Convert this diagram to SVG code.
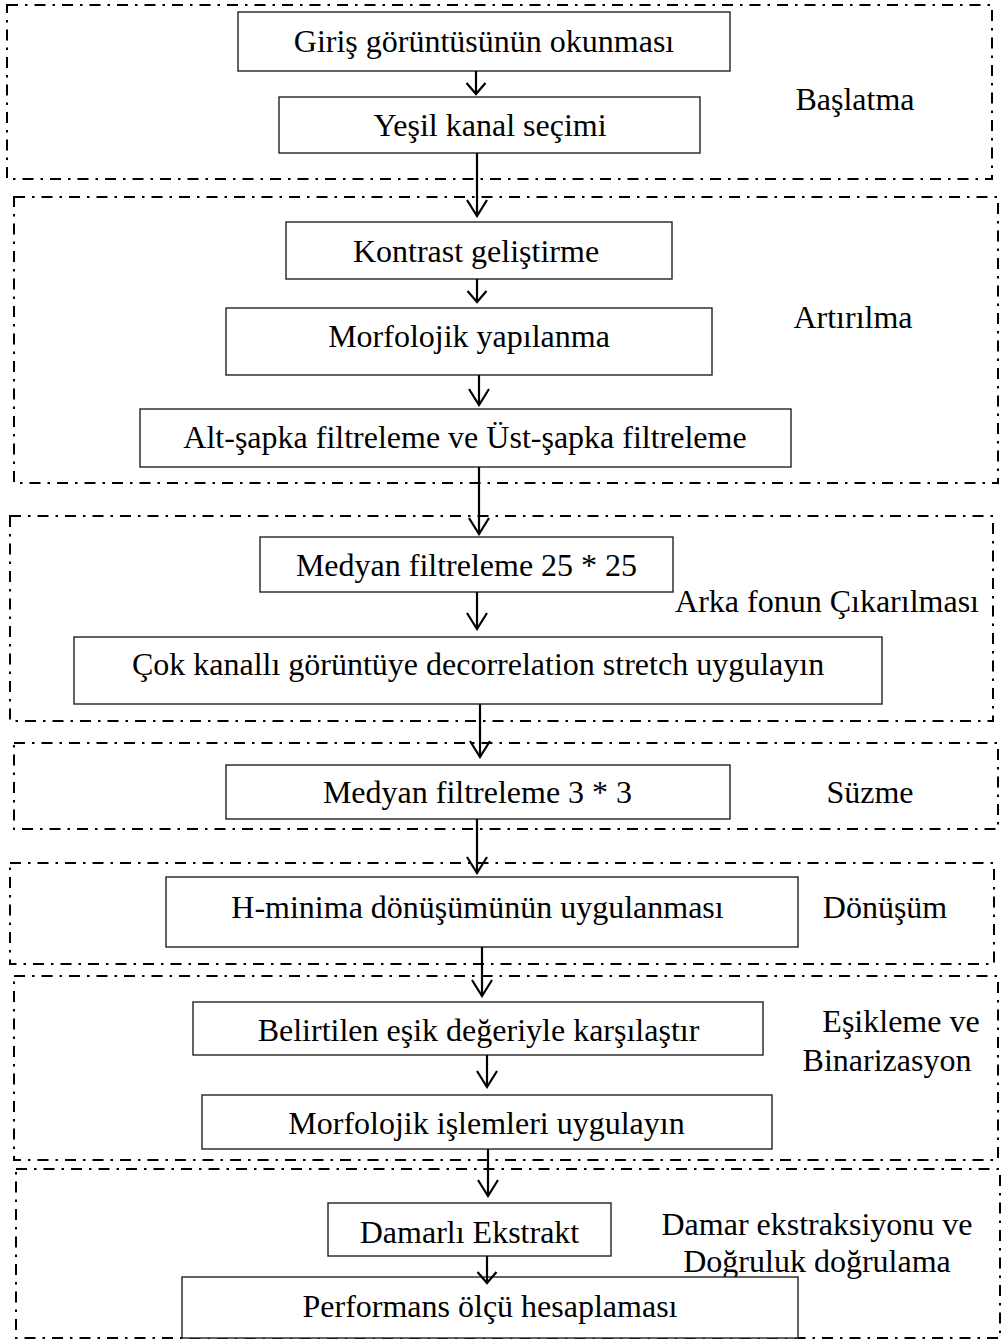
<svg xmlns="http://www.w3.org/2000/svg" width="1002" height="1340" viewBox="0 0 1002 1340">
<defs>
<style>
.grp{fill:none;stroke:#000;stroke-width:2;stroke-dasharray:11 7 2.5 7}
.box{fill:#fff;stroke:#222;stroke-width:1.4}
.t{font-family:"Liberation Serif","Times New Roman",serif;font-size:32px;fill:#000;text-anchor:middle}
.c{fill:none;stroke:#000;stroke-width:2.2}
</style>
<marker id="ah" viewBox="-2 -12 20 24" markerWidth="20" markerHeight="24" refX="16" refY="0" orient="auto" markerUnits="userSpaceOnUse">
<path d="M0,-10 L16,0 L0,10" fill="none" stroke="#000" stroke-width="2.2"/>
</marker>
<marker id="ahs" viewBox="-2 -12 16 24" markerWidth="16" markerHeight="24" refX="11" refY="0" orient="auto" markerUnits="userSpaceOnUse">
<path d="M0,-9.5 L11,0 L0,9.5" fill="none" stroke="#000" stroke-width="2.2"/>
</marker>
</defs>
<rect width="1002" height="1340" fill="#fff"/>

<g id="group-baslatma">
<rect class="grp" x="7" y="5" width="985" height="174"/>
<text class="t" x="855" y="110">Başlatma</text>
</g>
<g id="group-artirilma">
<rect class="grp" x="14" y="197" width="984" height="286"/>
<text class="t" x="853" y="328">Artırılma</text>
</g>
<g id="group-arkafon">
<rect class="grp" x="10" y="516" width="983" height="205"/>
<text class="t" x="827" y="612">Arka fonun Çıkarılması</text>
</g>
<g id="group-suzme">
<rect class="grp" x="14" y="743" width="984" height="86"/>
<text class="t" x="870" y="803">Süzme</text>
</g>
<g id="group-donusum">
<rect class="grp" x="10" y="863" width="984" height="101"/>
<text class="t" x="885" y="918">Dönüşüm</text>
</g>
<g id="group-esikleme">
<rect class="grp" x="14" y="976" width="984" height="184"/>
<text class="t" x="901" y="1032">Eşikleme ve</text>
<text class="t" x="887" y="1071">Binarizasyon</text>
</g>
<g id="group-damar">
<rect class="grp" x="16" y="1169" width="984" height="169"/>
<text class="t" x="817" y="1235">Damar ekstraksiyonu ve</text>
<text class="t" x="817" y="1272">Doğruluk doğrulama</text>
</g>

<g id="n1"><rect class="box" x="238" y="12" width="492" height="59"/><text class="t" x="484" y="52">Giriş görüntüsünün okunması</text></g>
<g id="n2"><rect class="box" x="279" y="97" width="421" height="56"/><text class="t" x="490" y="136">Yeşil kanal seçimi</text></g>
<g id="n3"><rect class="box" x="286" y="222" width="386" height="57"/><text class="t" x="476" y="262">Kontrast geliştirme</text></g>
<g id="n4"><rect class="box" x="226" y="308" width="486" height="67"/><text class="t" x="469" y="347">Morfolojik yapılanma</text></g>
<g id="n5"><rect class="box" x="140" y="409" width="651" height="58"/><text class="t" x="465" y="448">Alt-şapka filtreleme ve Üst-şapka filtreleme</text></g>
<g id="n6"><rect class="box" x="260" y="537" width="413" height="55"/><text class="t" x="466.5" y="576">Medyan filtreleme 25 * 25</text></g>
<g id="n7"><rect class="box" x="74" y="637" width="808" height="67"/><text class="t" x="478" y="675">Çok kanallı görüntüye decorrelation stretch uygulayın</text></g>
<g id="n8"><rect class="box" x="226" y="765" width="504" height="54"/><text class="t" x="477.5" y="803">Medyan filtreleme 3 * 3</text></g>
<g id="n9"><rect class="box" x="166" y="877" width="632" height="70"/><text class="t" x="477.5" y="918">H-minima dönüşümünün uygulanması</text></g>
<g id="n10"><rect class="box" x="193" y="1002" width="570" height="53"/><text class="t" x="478.5" y="1041">Belirtilen eşik değeriyle karşılaştır</text></g>
<g id="n11"><rect class="box" x="202" y="1095" width="570" height="54"/><text class="t" x="486.5" y="1134">Morfolojik işlemleri uygulayın</text></g>
<g id="n12"><rect class="box" x="328" y="1203" width="283" height="53"/><text class="t" x="469.5" y="1243">Damarlı Ekstrakt</text></g>
<g id="n13"><rect class="box" x="182" y="1277" width="616" height="61"/><text class="t" x="490" y="1317">Performans ölçü hesaplaması</text></g>

<g id="connectors">
<path class="c" d="M476,71 V94" marker-end="url(#ahs)"/>
<path class="c" d="M477,153 V216" marker-end="url(#ah)"/>
<path class="c" d="M477,279 V302" marker-end="url(#ahs)"/>
<path class="c" d="M479,375 V405" marker-end="url(#ah)"/>
<path class="c" d="M479,467 V534" marker-end="url(#ah)"/>
<path class="c" d="M477,592 V629" marker-end="url(#ah)"/>
<path class="c" d="M480,704 V757" marker-end="url(#ah)"/>
<path class="c" d="M477,819 V873" marker-end="url(#ah)"/>
<path class="c" d="M482,947 V996" marker-end="url(#ah)"/>
<path class="c" d="M487,1055 V1087" marker-end="url(#ah)"/>
<path class="c" d="M488,1149 V1196" marker-end="url(#ah)"/>
<path class="c" d="M487,1256 V1283" marker-end="url(#ahs)"/>
</g>
</svg>
